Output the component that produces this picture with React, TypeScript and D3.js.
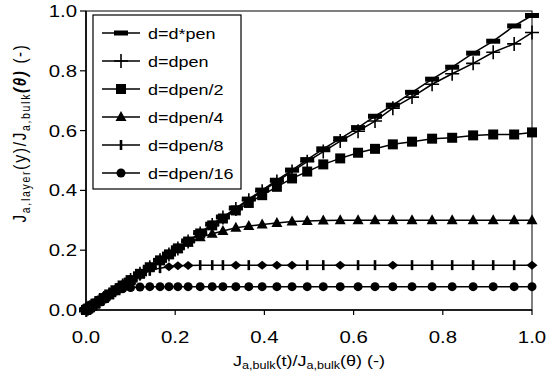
import React from "react";
import * as d3 from "d3";

const xValues = [0, 0.002, 0.005, 0.009, 0.014, 0.021, 0.03, 0.04, 0.052, 0.066, 0.082, 0.1, 0.121, 0.143, 0.166, 0.186, 0.206, 0.229, 0.256, 0.283, 0.307, 0.336, 0.365, 0.395, 0.428, 0.462, 0.496, 0.532, 0.57, 0.61, 0.648, 0.688, 0.731, 0.776, 0.821, 0.868, 0.913, 0.96, 1.0];

const seriesNames = ["d=d*pen", "d=dpen", "d=dpen/2", "d=dpen/4", "d=dpen/8", "d=dpen/16"];

const yDStarPen = [0, 0.002, 0.005, 0.009, 0.014, 0.021, 0.03, 0.04, 0.052, 0.066, 0.082, 0.1, 0.121, 0.143, 0.166, 0.187, 0.208, 0.231, 0.259, 0.287, 0.311, 0.341, 0.371, 0.401, 0.434, 0.468, 0.503, 0.539, 0.573, 0.61, 0.648, 0.685, 0.728, 0.772, 0.812, 0.859, 0.899, 0.95, 0.985];
const yDpen = [0, 0.002, 0.005, 0.009, 0.014, 0.021, 0.03, 0.04, 0.052, 0.066, 0.082, 0.1, 0.121, 0.143, 0.166, 0.186, 0.206, 0.229, 0.256, 0.284, 0.309, 0.338, 0.367, 0.397, 0.43, 0.463, 0.496, 0.53, 0.565, 0.598, 0.632, 0.675, 0.712, 0.755, 0.79, 0.825, 0.862, 0.89, 0.928];
const yDpen2 = [0, 0.002, 0.005, 0.009, 0.014, 0.021, 0.03, 0.04, 0.052, 0.066, 0.082, 0.1, 0.121, 0.143, 0.166, 0.186, 0.206, 0.229, 0.256, 0.283, 0.306, 0.333, 0.358, 0.384, 0.412, 0.44, 0.463, 0.487, 0.507, 0.526, 0.539, 0.554, 0.563, 0.573, 0.576, 0.584, 0.587, 0.587, 0.594];
const yDpen4 = [0, 0.002, 0.005, 0.009, 0.014, 0.021, 0.03, 0.04, 0.052, 0.066, 0.082, 0.1, 0.121, 0.143, 0.166, 0.186, 0.205, 0.225, 0.243, 0.255, 0.264, 0.275, 0.281, 0.286, 0.291, 0.296, 0.298, 0.299, 0.3, 0.3, 0.3, 0.3, 0.3, 0.3, 0.3, 0.3, 0.3, 0.3, 0.3];
const yDpen8 = [0, 0.002, 0.005, 0.009, 0.014, 0.021, 0.03, 0.04, 0.052, 0.066, 0.082, 0.1, 0.117, 0.131, 0.14, 0.145, 0.148, 0.149, 0.15, 0.15, 0.15, 0.15, 0.15, 0.15, 0.15, 0.15, 0.15, 0.15, 0.15, 0.15, 0.15, 0.15, 0.15, 0.15, 0.15, 0.15, 0.15, 0.15, 0.15];
const yDpen16 = [0, 0.002, 0.005, 0.009, 0.014, 0.021, 0.03, 0.04, 0.052, 0.063, 0.071, 0.075, 0.077, 0.078, 0.078, 0.078, 0.078, 0.078, 0.078, 0.078, 0.078, 0.078, 0.078, 0.078, 0.078, 0.078, 0.078, 0.078, 0.078, 0.078, 0.078, 0.078, 0.078, 0.078, 0.078, 0.078, 0.078, 0.078, 0.078];

const dpen8Markers = ["tick", "tick", "tick", "tick", "tick", "tick", "tick", "tick", "tick", "tick", "tick", "tick", "tick", "tick", "tick", "diamond", "diamond", "diamond", "tick", "tick", "tick", "diamond", "tick", "diamond", "diamond", "diamond", "tick", "tick", "diamond", "tick", "tick", "diamond", "tick", "tick", "tick", "tick", "tick", "tick", "diamond"];

const seriesMarkers = ["bar", "plus", "square", "triangle", "tick", "circle"];
const xTicks = [0, 0.2, 0.4, 0.6, 0.8, 1.0];
const yTicks = [0, 0.2, 0.4, 0.6, 0.8, 1.0];

const W = 548, H = 386;
const L = 86, R = 532, T = 11, B = 310;
const FONT = "'Liberation Sans', Arial, sans-serif";
const SX = 1.2;

function Marker({ type, x, y }: { type: string; x: number; y: number }) {
  const t = `translate(${x},${y})`;
  switch (type) {
    case "bar":
      return <rect transform={t} x={-7} y={-2.5} width={14} height={5} fill="#000" />;
    case "plus":
      return <path transform={t} d="M-7,0H7M0,-7V7" stroke="#000" strokeWidth={1.6} fill="none" />;
    case "square":
      return <rect transform={t} x={-5} y={-5} width={10} height={10} fill="#000" />;
    case "triangle":
      return <path transform={t} d="M0,-6L5.5,4L-5.5,4Z" fill="#000" />;
    case "tick":
      return <rect transform={t} x={-1.3} y={-5} width={2.6} height={10} fill="#000" />;
    case "diamond":
      return <path transform={t} d="M-5.5,0L0,-4.5L5.5,0L0,4.5Z" fill="#000" />;
    case "circle":
      return <circle transform={t} r={4.5} fill="#000" />;
    default:
      return null;
  }
}

export default function App() {
  const x = d3.scaleLinear().domain([0, 1]).range([L, R]);
  const y = d3.scaleLinear().domain([0, 1]).range([B, T]);
  const allY = [yDStarPen, yDpen, yDpen2, yDpen4, yDpen8, yDpen16];
  const line = d3.line<[number, number]>().x((d) => x(d[0])).y((d) => y(d[1]));

  const fmt = d3.format(".1f");

  return (
    <svg width={W} height={H} style={{ position: "absolute", left: 0, top: 0, background: "#fff" }} fontFamily={FONT}>
      <rect x={0} y={0} width={W} height={H} fill="#fff" />
      {allY.map((ys, si) => {
        const pts = xValues.map((xv, i) => [xv, ys[i]] as [number, number]);
        return (
          <g key={si}>
            <path d={line(pts) || ""} fill="none" stroke="#000" strokeWidth={1.5} />
            {pts.map((p, i) => (
              <Marker key={i} type={si === 4 ? dpen8Markers[i] : seriesMarkers[si]} x={x(p[0])} y={y(p[1])} />
            ))}
          </g>
        );
      }).reverse()}

      <rect x={L} y={T} width={R - L} height={B - T} fill="none" stroke="#000" strokeWidth={1} />
      <line x1={L} x2={L} y1={T} y2={B} stroke="#000" strokeWidth={1.6} />
      <line x1={L} x2={R} y1={B} y2={B} stroke="#000" strokeWidth={1.6} />

      {yTicks.map((v) => (
        <g key={"y" + v}>
          <line x1={L - 6} x2={L} y1={y(v)} y2={y(v)} stroke="#000" strokeWidth={1.2} />
          <text transform={`translate(${L - 9},${y(v) + 6}) scale(${SX},1)`} textAnchor="end" fontSize={17} fill="#000">
            {fmt(v)}
          </text>
        </g>
      ))}
      {xTicks.map((v) => (
        <g key={"x" + v}>
          <line x1={x(v)} x2={x(v)} y1={B} y2={B + 5} stroke="#000" strokeWidth={1.2} />
          <text transform={`translate(${x(v)},${B + 33}) scale(${SX},1)`} textAnchor="middle" fontSize={17} fill="#000">
            {fmt(v)}
          </text>
        </g>
      ))}

      <text transform={`translate(${(L + R) / 2},366) scale(${SX},1)`} textAnchor="middle" fontSize={15} fill="#000">
        J<tspan fontSize={10.5} dy={3}>a,bulk</tspan>
        <tspan dy={-3}>(t)/J</tspan>
        <tspan fontSize={10.5} dy={3}>a,bulk</tspan>
        <tspan dy={-3}>(θ)  (-)</tspan>
      </text>

      <text transform={`translate(26,133) rotate(-90) scale(1,${SX})`} textAnchor="middle" fontSize={15} letterSpacing={1.7} fill="#000">
        J<tspan fontSize={10.5} dy={3}>a,layer</tspan>
        <tspan dy={-3} fontSize={16}>(y)</tspan>
        <tspan>/J</tspan>
        <tspan fontSize={10.5} dy={3}>a,bulk</tspan>
        <tspan dy={-3} fontWeight="bold" fontStyle="italic">(θ)</tspan>
        <tspan> (-)</tspan>
      </text>

      <rect x={93} y={15} width={148} height={174} fill="#fff" stroke="#000" strokeWidth={1.2} />
      {seriesNames.map((name, i) => {
        const cy = 33 + i * 28;
        return (
          <g key={name}>
            <line x1={102} x2={140} y1={cy} y2={cy} stroke="#000" strokeWidth={1.5} />
            <Marker type={seriesMarkers[i]} x={121} y={cy} />
            <text transform={`translate(148,${cy + 5.5}) scale(${SX},1)`} fontSize={15} fill="#000">
              {name}
            </text>
          </g>
        );
      })}
    </svg>
  );
}
